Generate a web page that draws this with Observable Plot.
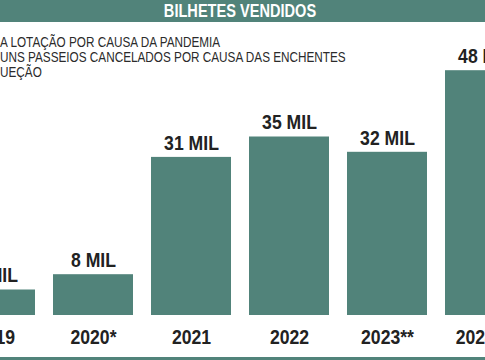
<!DOCTYPE html>
<html>
<head>
<meta charset="utf-8">
<script src="https://cdn.jsdelivr.net/npm/d3@7"></script>
<script src="https://cdn.jsdelivr.net/npm/@observablehq/plot@0.6"></script>
<style>
  html, body { margin: 0; padding: 0; background: #fff; }
  #wrap { position: relative; width: 485px; height: 360px; overflow: hidden; background: #fff;
    font-family: "Liberation Sans", Arial, sans-serif; }
  #banner { position: absolute; left: 0; top: 0; width: 485px; height: 22px; background: #51837a;
    color: #fff; font-weight: bold; font-size: 18px; line-height: 22px; text-align: center;
    box-sizing: border-box; padding-right: 5px; }
  #banner span { display: inline-block; transform: scaleX(0.81); transform-origin: 50% 50%; white-space: nowrap; }
  #notes { position: absolute; left: 0; top: 35px; font-size: 14.5px; line-height: 15px; color: #2b2b2b;
    white-space: nowrap; z-index: 2; }
  #notes div { transform: scaleX(0.81); transform-origin: 0 0; }
  #chart { position: absolute; left: 0; top: 0; }
  #bottomline { position: absolute; left: 0; top: 357px; width: 485px; height: 3px; background: #51837a; }
</style>
</head>
<body>
<div id="wrap">
  <div id="chart"></div>
  <div id="banner"><span>BILHETES VENDIDOS</span></div>
  <div id="notes"></div>
  <div id="bottomline"></div>
</div>
<script>
const years = ["2019", "2020", "2021", "2022", "2023", "2024"];
const yearLabels = ["2019", "2020*", "2021", "2022", "2023**", "2024***"];
const tickets = [5, 8, 31, 35, 32, 48]; // thousands
const valueLabels = ["5 MIL", "8 MIL", "31 MIL", "35 MIL", "32 MIL", "48 MIL"];
const notes = [
  "A LOTAÇÃO POR CAUSA DA PANDEMIA",
  "UNS PASSEIOS CANCELADOS POR CAUSA DAS ENCHENTES",
  "UEÇÃO"
];

const data = years.map((y, i) => ({year: y, value: tickets[i], label: valueLabels[i]}));
const labelOf = Object.fromEntries(years.map((y, i) => [y, yearLabels[i]]));
const green = "#51837a";
const font = '"Liberation Sans", Arial, sans-serif';

document.getElementById("notes").innerHTML = notes.map(n => `<div>${n}</div>`).join("");

const chart = Plot.plot({
  width: 485,
  height: 360,
  marginTop: 0,
  marginBottom: 45,
  marginLeft: 0,
  marginRight: 0,
  style: {background: "transparent", fontFamily: font, overflow: "visible"},
  x: {domain: years, range: [-64.8, 545.8], paddingInner: 0.18, paddingOuter: 0.18, axis: null},
  y: {domain: [0, 60], range: [315, 9], axis: null},
  marks: [
    Plot.barY(data, {x: "year", y: "value", fill: green}),
    Plot.text(data, {x: "year", y: "value", text: "label", dy: -14, fontSize: 20, fontWeight: "bold",
      fill: "#222", fontFamily: font}),
    Plot.axisX({domain: years, tickSize: 0, tickPadding: 14, fontSize: 20, fontWeight: "bold",
      tickFormat: d => labelOf[d], color: "#222", fill: "#222", fontFamily: font, label: null})
  ]
});
document.getElementById("chart").appendChild(chart);
// condensed look: compress glyphs horizontally (Arial -> narrow)
chart.querySelectorAll("text").forEach(el => {
  const len = el.getComputedTextLength();
  if (len > 0) {
    el.setAttribute("textLength", (len * 0.88).toFixed(1));
    el.setAttribute("lengthAdjust", "spacingAndGlyphs");
  }
});
</script>
</body>
</html>
